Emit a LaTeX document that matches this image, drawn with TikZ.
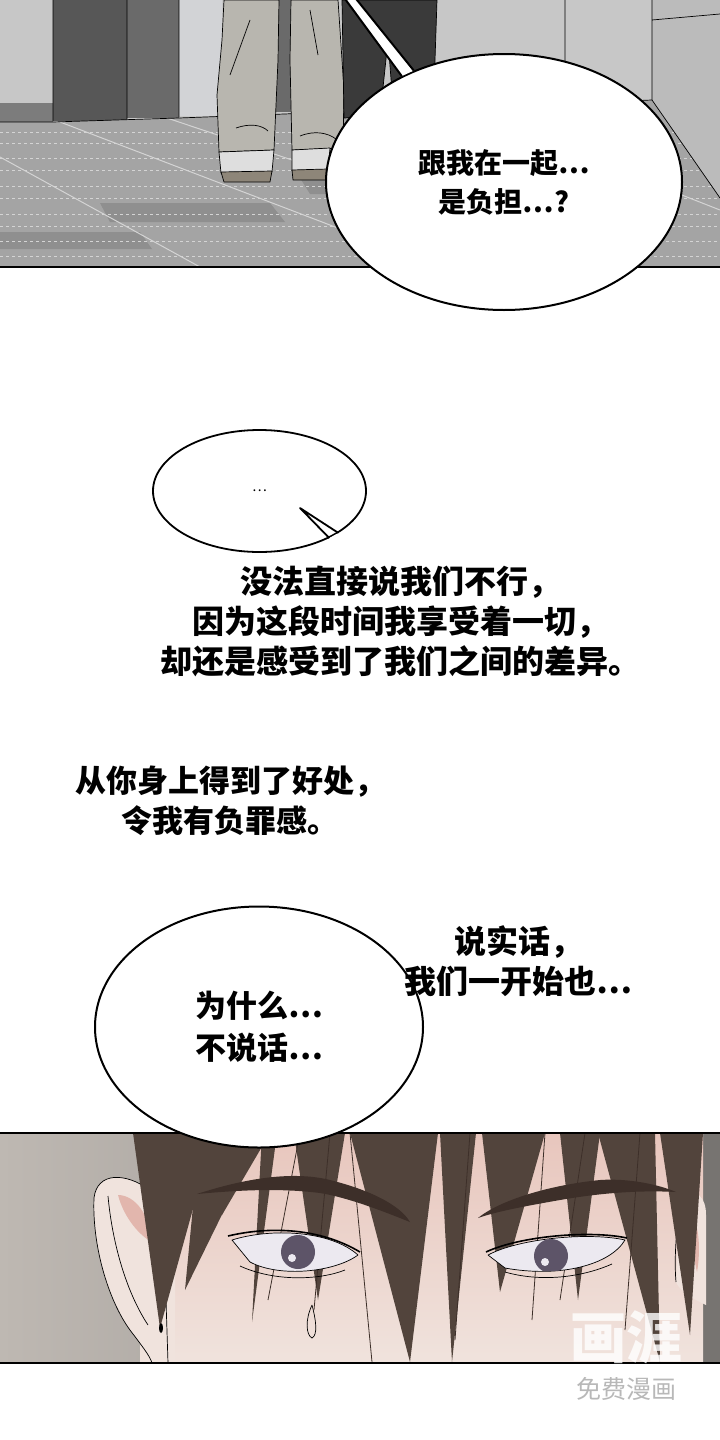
\documentclass[tikz,border=0pt]{standalone}
\usepackage{fontspec}
\newfontfamily\cjk{Noto Sans CJK SC}
\usetikzlibrary{shapes.geometric}
\definecolor{wallgray}{HTML}{C7C7C7}
\definecolor{wallpale}{HTML}{D2D3D6}
\definecolor{wallright}{HTML}{BBBBBB}
\definecolor{baseboard}{HTML}{7C7C7C}
\definecolor{pillardark}{HTML}{575757}
\definecolor{pillarmid}{HTML}{6A6A6A}
\definecolor{floorgray}{HTML}{A4A4A4}
\definecolor{floorband}{HTML}{8F8F8F}
\definecolor{floorline}{HTML}{D4D4D4}
\definecolor{pants}{HTML}{B8B6AF}
\definecolor{pantsdark}{HTML}{3A3A3A}
\definecolor{shoe}{HTML}{DEDEDE}
\definecolor{sole}{HTML}{8E8679}
\definecolor{bgleft}{HTML}{BEB8B2}
\definecolor{bgright}{HTML}{8C8885}
\definecolor{skin}{HTML}{F0E3DD}
\definecolor{skinpink}{HTML}{E8C6BD}
\definecolor{earpink}{HTML}{E2B6AD}
\definecolor{hair}{HTML}{52443C}
\definecolor{brow}{HTML}{3D2F29}
\definecolor{iris}{HTML}{5D5468}
\definecolor{eyewhite}{HTML}{ECE9F0}

\begin{document}
\begin{tikzpicture}[x=1pt, y=-1pt, line join=round,
  bubble/.style={ellipse, draw, fill=white, line width=2pt, inner sep=0pt, align=center,
                 font={\cjk\bfseries\fontsize{28}{39}\selectfont}},
  say/.style={inner sep=0pt, align=center, font={\cjk\bfseries\fontsize{31}{40}\selectfont}},
  ink/.style={draw=black, line width=0.7pt},
  strand/.style={fill=hair}]

\useasboundingbox (0,0) rectangle (720,1440);
\clip (0,0) rectangle (720,1440);
\fill[white] (0,0) rectangle (720,1440);

% corridor
\fill[wallgray] (0,0) rectangle (720,125);
\fill[baseboard] (0,103) rectangle (53,122);
\fill[pillardark] (53,0) rectangle (127,121);
\fill[pillarmid] (127,0) rectangle (179,118);
\fill[wallpale] (179,0) rectangle (222,116);
\fill[pillarmid] (270,0) rectangle (295,112);
\fill[wallright] (652,0) rectangle (720,200);
\draw[ink] (53,0) -- (53,121) (127,0) -- (127,119) (179,0) -- (179,117)
           (565,0) -- (565,103) (652,0) -- (652,100) (652,20) -- (720,14);
\fill[floorgray] (0,122) -- (53,122) -- (179,118) -- (652,100) -- (720,198)
                 -- (720,267) -- (0,267) -- cycle;
\begin{scope}
  \clip (0,122) -- (53,122) -- (179,118) -- (652,100) -- (720,198) -- (720,267) -- (0,267) -- cycle;
  \fill[floorband] (100,203) -- (270,203) -- (285,222) -- (110,222) -- cycle;
  \fill[floorband] (0,232) -- (140,232) -- (152,249) -- (0,249) -- cycle;
  \fill[floorband] (300,178) -- (470,178) -- (480,194) -- (310,194) -- cycle;
  \foreach \y in {132,143,158,170,186,198,214,226,241,256}
    \draw[floorline, dashed, line width=0.5pt] (0,\y) -- (720,\y);
  \draw[floorline, line width=1pt] (0,157) -- (200,267) (60,122) -- (440,267)
       (167,118) -- (560,250) (460,108) -- (720,210);
\end{scope}
\draw[ink] (0,122) -- (53,122) -- (179,118) -- (652,100) -- (720,198);

% legs
\filldraw[fill=pants, ink] (224,0) -- (279,0) -- (278,60) -- (274,150) -- (219,152)
         -- (217,95) -- (222,40) -- cycle;
\filldraw[fill=pants, ink] (291,0) -- (338,0) -- (344,90) -- (343,148) -- (292,150)
         -- (290,60) -- cycle;
\draw[ink] (250,20) -- (230,75) (310,10) -- (318,55)
           (236,128) .. controls (250,123) and (262,125) .. (268,131)
           (300,136) .. controls (315,130) and (328,133) .. (336,139);
\filldraw[fill=shoe, ink] (219,152) -- (274,150) -- (272,172) -- (221,173) -- cycle;
\filldraw[fill=sole, ink] (221,172) -- (272,171) -- (270,182) -- (224,182) -- cycle;
\filldraw[fill=shoe, ink] (292,150) -- (330,148) -- (328,170) -- (292,171) -- cycle;
\filldraw[fill=sole, ink] (292,170) -- (328,169) -- (326,180) -- (293,180) -- cycle;
\filldraw[fill=pantsdark, ink] (342,0) -- (437,0) -- (434,90) -- (392,92) -- (388,40)
         -- (380,116) -- (344,118) -- cycle;

\draw[line width=2.5pt] (-5,267) -- (725,267);

\node[bubble, minimum width=356, minimum height=256] (bubHeavy) at (504,182)
  {跟我在一起…\\是负担…?};
\coordinate (tailTop) at (229,-159);
\fill[white] (bubHeavy.129) -- (tailTop) -- (bubHeavy.134) -- cycle;
\draw[line width=2pt] (bubHeavy.129) -- (tailTop) -- (bubHeavy.134);

\node[bubble, line width=1.8pt, minimum width=213, minimum height=122,
      font={\cjk\fontsize{14}{14}\selectfont}] (bubDots) at (259.5,491) {…};
\coordinate (notchTip) at (300,508);
\coordinate (notchOut) at (372,560);
\fill[white] (bubDots.-28) -- (notchOut) -- (bubDots.-34) -- cycle;
\draw[line width=1.8pt] (bubDots.-28) -- (notchTip) -- (bubDots.-34);

\node[say, font={\cjk\bfseries\fontsize{32}{40}\selectfont}] (txtDiff) at (400,621)
  {没法直接说我们不行，\\因为这段时间我享受着一切，\\却还是感受到了我们之间的差异。};
\node[say] (txtGuilt) at (230,801) {从你身上得到了好处，\\令我有负罪感。};

% face panel
\shade[left color=bgleft, right color=bgright] (0,1133) rectangle (720,1363);
\fill[bgright!85!black] (703,1133) rectangle (720,1363);
\shade[top color=skinpink, bottom color=skin] (140,1133) rectangle (703,1363);
\fill[skin] (150,1190) .. controls (125,1172) and (97,1172) .. (94,1198)
      .. controls (92,1245) and (108,1300) .. (130,1330)
      .. controls (142,1346) and (150,1356) .. (152,1363) -- (175,1363) -- (175,1190) -- cycle;
\draw[ink] (150,1190) .. controls (125,1172) and (97,1172) .. (94,1198)
      .. controls (92,1245) and (108,1300) .. (130,1330)
      .. controls (142,1346) and (150,1356) .. (152,1363);
\fill[earpink] (118,1195) .. controls (135,1195) and (150,1215) .. (152,1242)
      .. controls (140,1236) and (124,1218) .. cycle;
\draw[ink] (108,1196) .. controls (112,1240) and (125,1290) .. (148,1325)
           (166,1300) -- (168,1363);
\fill[skin] (680,1195) .. controls (698,1188) and (706,1198) .. (706,1215) -- (706,1305)
      .. controls (695,1300) and (680,1292) .. (676,1282) -- cycle;
\fill[earpink] (690,1215) .. controls (699,1220) and (701,1250) .. (697,1272)
      .. controls (692,1250) and (690,1230) .. cycle;
\draw[ink] (681,1196) .. controls (676,1230) and (674,1260) .. (676,1282);

\foreach \xl/\xr/\xt/\yt in {133/214/160/1328, 200/262/185/1290, 228/270/222/1215,
    262/277/252/1322, 294/345/318/1300, 350/438/410/1362, 440/476/452/1362,
    482/545/500/1292, 560/600/578/1300, 598/655/660/1362, 660/703/690/1335}
  \fill[strand] (\xl,1133) -- (\xr,1133) -- (\xt,\yt) -- cycle;
\foreach \xa/\xb/\yb in {300/268/1300, 330/314/1310, 470/455/1340, 585/560/1300,
    640/625/1330, 350/372/1362, 545/532/1320}
  \draw[brow, line width=0.8pt] (\xa,1133) -- (\xb,\yb);

% eyes
\filldraw[fill=eyewhite, ink] (232,1240) .. controls (270,1228) and (330,1230) .. (358,1255)
      .. controls (335,1272) and (280,1278) .. (250,1262) -- cycle;
\begin{scope}
  \clip (232,1240) .. controls (270,1228) and (330,1230) .. (358,1255)
      .. controls (335,1272) and (280,1278) .. (250,1262) -- cycle;
  \fill[iris] (298,1252) circle (17);
  \fill[eyewhite] (292,1258) circle (4);
\end{scope}
\draw[black, line width=1.6pt] (228,1236) .. controls (270,1226) and (320,1228) .. (360,1252);
\filldraw[fill=eyewhite, ink] (488,1255) .. controls (520,1238) and (590,1232) .. (625,1240)
      .. controls (610,1265) and (560,1278) .. (505,1268) -- cycle;
\begin{scope}
  \clip (488,1255) .. controls (520,1238) and (590,1232) .. (625,1240)
      .. controls (610,1265) and (560,1278) .. (505,1268) -- cycle;
  \fill[iris] (551,1256) circle (17);
  \fill[eyewhite] (545,1262) circle (4);
\end{scope}
\draw[black, line width=1.6pt] (486,1252) .. controls (520,1236) and (590,1230) .. (627,1238);
\draw[ink] (240,1266) .. controls (275,1282) and (320,1280) .. (345,1270)
           (505,1272) .. controls (540,1282) and (580,1278) .. (612,1264);

% brows
\fill[brow] (197,1194) .. controls (240,1180) and (290,1170) .. (330,1180)
      .. controls (370,1190) and (400,1205) .. (410,1222)
      .. controls (385,1212) and (350,1198) .. (320,1193)
      .. controls (280,1188) and (240,1190) .. cycle;
\fill[brow] (478,1218) .. controls (500,1200) and (550,1185) .. (600,1180)
      .. controls (630,1178) and (660,1185) .. (676,1192)
      .. controls (640,1190) and (600,1193) .. (560,1200)
      .. controls (520,1207) and (495,1212) .. cycle;

\draw[ink] (312,1305) .. controls (305,1320) and (306,1335) .. (312,1338)
      .. controls (318,1335) and (316,1320) .. (312,1305);
\fill[black] (161,1328) ellipse (2 and 5);

\draw[line width=2.5pt] (-5,1133) -- (725,1133) (-5,1363) -- (725,1363);

\node[bubble, align=left, minimum width=328, minimum height=241,
      font={\cjk\bfseries\fontsize{31}{42}\selectfont}] (bubWhy) at (259,1027)
  {为什么…\\不说话…};
\node[say, font={\cjk\bfseries\fontsize{32}{40}\selectfont}] (txtTruth) at (518,961)
  {说实话，\\我们一开始也…};

\node[font={\cjk\bfseries\fontsize{56}{56}\selectfont}, text=white, opacity=0.8] (wmLogo)
  at (626,1337) {画涯};
\node[font={\cjk\fontsize{25}{25}\selectfont}, text=black!28] (wmFree)
  at (626,1389) {免费漫画};
\end{tikzpicture}
\end{document}
